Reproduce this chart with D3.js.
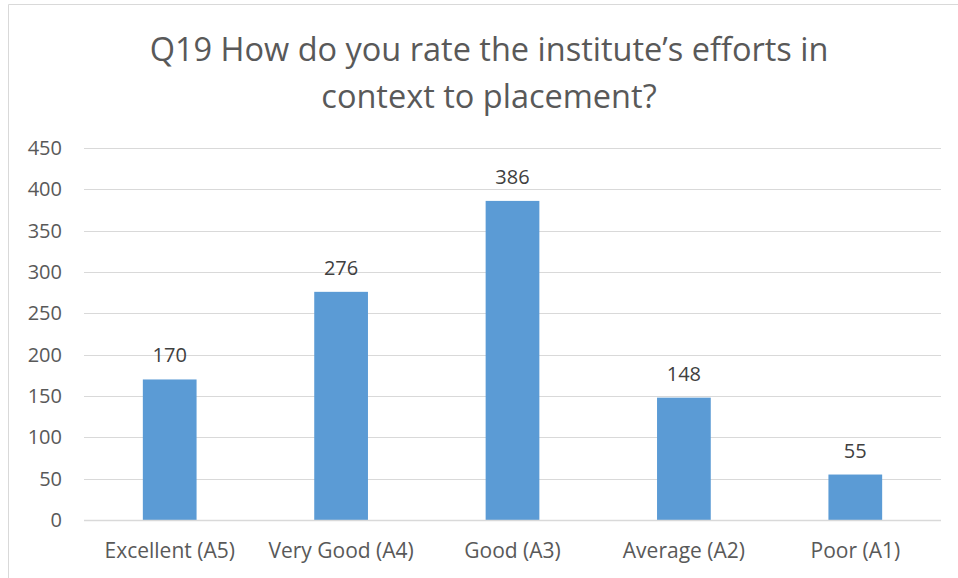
<!DOCTYPE html>
<html>
<head>
<meta charset="utf-8">
<script src="https://cdn.jsdelivr.net/npm/d3@7"></script>
<style>
  body { margin: 0; background: #fff; }
  text { font-family: "Open Sans", "Noto Sans", sans-serif; }
</style>
</head>
<body>
<svg width="958" height="578"></svg>
<script>
const categories = ["Excellent (A5)", "Very Good (A4)", "Good (A3)", "Average (A2)", "Poor (A1)"];
const counts = [170, 276, 386, 148, 55];
const yTicks = [0, 50, 100, 150, 200, 250, 300, 350, 400, 450];
const titleLines = ["Q19 How do you rate the institute\u2019s efforts in", "context to placement?"];

const svg = d3.select("svg");
const plotLeft = 84, plotRight = 941, plotTop = 148, plotBottom = 520;

// chart frame (only top and left visible in the reference)
svg.append("line").attr("x1", 8.5).attr("x2", 958).attr("y1", 4.5).attr("y2", 4.5)
  .attr("stroke", "#d9d9d9").attr("stroke-width", 1);
svg.append("line").attr("x1", 8.5).attr("x2", 8.5).attr("y1", 4.5).attr("y2", 578)
  .attr("stroke", "#d9d9d9").attr("stroke-width", 1);

const x = d3.scaleBand().domain(categories).range([plotLeft, plotRight]);
const y = d3.scaleLinear().domain([0, 450]).range([plotBottom, plotTop]);
const barW = x.step() / 3.19;

// gridlines
svg.append("g").selectAll("line").data(yTicks).enter().append("line")
  .attr("x1", plotLeft).attr("x2", plotRight)
  .attr("y1", d => Math.round(y(d)) + 0.5).attr("y2", d => Math.round(y(d)) + 0.5)
  .attr("stroke", "#d9d9d9").attr("stroke-width", 1);

// y axis labels
const yAxis = svg.append("g").attr("transform", "translate(" + (plotLeft - 22) + ",0)")
  .call(d3.axisLeft(y).tickValues(yTicks).tickSize(0).tickPadding(0));
yAxis.select(".domain").remove();
yAxis.selectAll("text").attr("fill", "#595959").style("font-size", "20px")
  .style("font-family", "'Open Sans', sans-serif");

// bars
svg.append("g").selectAll("rect").data(counts).enter().append("rect")
  .attr("x", (d, i) => x(categories[i]) + (x.step() - barW) / 2)
  .attr("width", barW)
  .attr("y", d => y(d))
  .attr("height", d => y(0) - y(d))
  .attr("fill", "#5b9bd5");

// baseline
svg.append("line").attr("x1", plotLeft).attr("x2", plotRight)
  .attr("y1", plotBottom + 0.5).attr("y2", plotBottom + 0.5)
  .attr("stroke", "#d9d9d9").attr("stroke-width", 1.5);

// data labels
svg.append("g").selectAll("text").data(counts).enter().append("text")
  .attr("x", (d, i) => x(categories[i]) + x.step() / 2)
  .attr("y", d => y(d) - 17)
  .attr("text-anchor", "middle")
  .attr("fill", "#404040").style("font-size", "20px")
  .text(d => d);

// x axis labels
const xAxis = svg.append("g").attr("transform", "translate(0," + (plotBottom + 23) + ")")
  .call(d3.axisBottom(x).tickSize(0).tickPadding(0));
xAxis.select(".domain").remove();
xAxis.selectAll("text").attr("fill", "#595959").style("font-size", "21px")
  .style("font-family", "'Open Sans', sans-serif");

// title
svg.append("g").selectAll("text").data(titleLines).enter().append("text")
  .attr("x", 489).attr("y", (d, i) => 61 + i * 47)
  .attr("text-anchor", "middle")
  .attr("fill", "#595959").style("font-size", "32.5px")
  .text(d => d);
</script>
</body>
</html>
